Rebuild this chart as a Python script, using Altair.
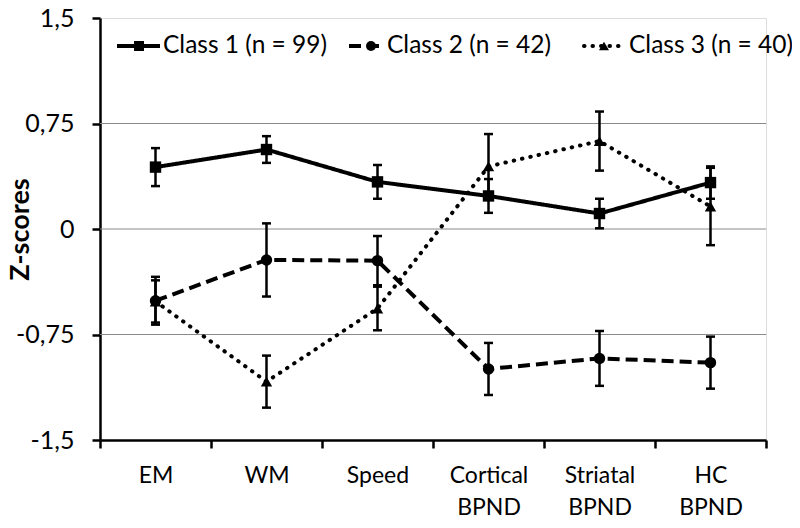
import altair as alt
import pandas as pd

categories = ["EM", "WM", "Speed", "Cortical BPND", "Striatal BPND", "HC BPND"]
series_names = ["Class 1 (n = 99)", "Class 2 (n = 42)", "Class 3 (n = 40)"]

class1_mean = [0.44, 0.565, 0.335, 0.235, 0.11, 0.33]
class1_err = [0.135, 0.095, 0.12, 0.12, 0.105, 0.115]
class2_mean = [-0.51, -0.22, -0.225, -0.995, -0.92, -0.95]
class2_err = [0.17, 0.26, 0.175, 0.185, 0.195, 0.185]
class3_mean = [-0.515, -1.085, -0.565, 0.445, 0.625, 0.16]
class3_err = [0.15, 0.185, 0.155, 0.23, 0.21, 0.275]

y_ticks = [-1.5, -0.75, 0, 0.75, 1.5]
grid_values = [-0.75, 0, 0.75]

rows = []
for name, means, errs in zip(series_names,
                             [class1_mean, class2_mean, class3_mean],
                             [class1_err, class2_err, class3_err]):
    for c, m, e in zip(categories, means, errs):
        rows.append({"cat": c, "series": name, "mean": m, "lo": m - e, "hi": m + e})
df = pd.DataFrame(rows)

FONT = "Lato"
FS = 23

xscale = alt.Scale(type="band", domain=categories, paddingInner=0, paddingOuter=0)
yscale = alt.Scale(domain=[-1.5, 1.5], nice=False, zero=False)

x_axis = alt.Axis(title=None, labelExpr="split(datum.label, ' ')", tickBand="extent",
                  labelAngle=0, domainColor="black", domainWidth=2.5, tickColor="black",
                  tickWidth=2.5, tickSize=8, labelFont=FONT, labelFontSize=FS,
                  labelColor="black", labelPadding=16, labelLineHeight=32, grid=False)
y_axis = alt.Axis(title="Z-scores", values=y_ticks,
                  labelExpr="(datum.value < 0 ? '-' : '') + replace(format(abs(datum.value), '.2~f'), '.', ',')",
                  grid=False, domainColor="black", domainWidth=2.5, tickColor="black",
                  tickWidth=2.5, tickSize=8, labelFont=FONT, labelFontSize=25,
                  labelColor="black", labelPadding=18, titleFont=FONT, titleFontSize=27,
                  titleFontWeight="bold", titleColor="black", titleX=-80, titleY=211,
                  titleBaseline="middle", titleAngle=270, titleAlign="center")

X = lambda: alt.X("cat:N", sort=categories, scale=xscale, bandPosition=0.5, axis=x_axis)

base = alt.Chart(df)

grid = alt.Chart(pd.DataFrame({"v": grid_values})).mark_rule(
    color="#8a8a8a", strokeWidth=1).encode(y=alt.Y("v:Q", scale=yscale, axis=y_axis))

styles = {
    series_names[0]: dict(dash=[1, 0], cap="butt", shape="square"),
    series_names[1]: dict(dash=[12, 6], cap="butt", shape="circle"),
    series_names[2]: dict(dash=[0.5, 8], cap="round", shape="triangle-up"),
}

layers = [grid]

# error bars
layers.append(base.mark_rule(color="black", strokeWidth=2.5).encode(
    x=X(), y=alt.Y("lo:Q", scale=yscale), y2="hi:Q"))
layers.append(base.mark_tick(color="black", thickness=2.5, size=9, opacity=1).encode(
    x=X(), y=alt.Y("lo:Q", scale=yscale)))
layers.append(base.mark_tick(color="black", thickness=2.5, size=9, opacity=1).encode(
    x=X(), y=alt.Y("hi:Q", scale=yscale)))

for name in series_names:
    st = styles[name]
    sub = base.transform_filter(alt.datum.series == name)
    layers.append(sub.mark_line(color="black", strokeWidth=4, strokeDash=st["dash"],
                                strokeCap=st["cap"]).encode(
        x=X(), y=alt.Y("mean:Q", scale=yscale)))
    layers.append(sub.mark_point(color="black", filled=True, opacity=1, size=130,
                                 shape=st["shape"]).encode(
        x=X(), y=alt.Y("mean:Q", scale=yscale)))

# legend (decoration)
leg_y = 28
leg_pos = [(17, 60, 39, 63), (249, 285, 271, 287), (484, 525, 504, 529)]
for name, (x0, x1, xm, xt) in zip(series_names, leg_pos):
    st = styles[name]
    ld = pd.DataFrame({"label": [name]})
    layers.append(alt.Chart(ld).mark_rule(color="black", strokeWidth=4,
                                          strokeDash=st["dash"], strokeCap=st["cap"]).encode(
        x=alt.value(x0), x2=alt.value(x1), y=alt.value(leg_y)))
    layers.append(alt.Chart(ld).mark_point(color="black", filled=True, opacity=1, size=100,
                                           shape=st["shape"]).encode(
        x=alt.value(xm), y=alt.value(leg_y)))
    layers.append(alt.Chart(ld).mark_text(font=FONT, fontSize=24.5, align="left",
                                          baseline="middle", color="black").encode(
        x=alt.value(xt), y=alt.value(leg_y), text="label:N"))

chart = alt.layer(*layers).properties(
    width=666, height=422,
    autosize=alt.AutoSizeParams(type="none"),
    padding={"left": 92, "top": 10, "right": 26, "bottom": 80},
).configure_view(stroke=None).configure(background="white")

chart.save("out.html", embed_options={"renderer": "svg", "actions": False})
